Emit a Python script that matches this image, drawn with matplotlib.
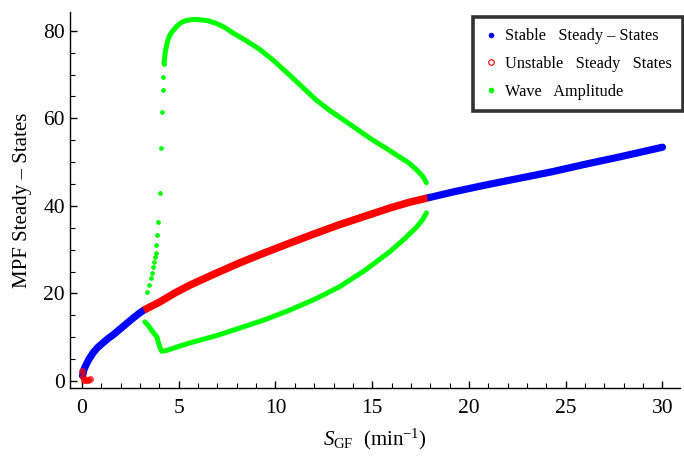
import matplotlib
matplotlib.use("Agg")
import matplotlib.pyplot as plt
from matplotlib.lines import Line2D
from matplotlib.ticker import MultipleLocator

# Stable steady states (low branch)
stable_lo_x = [0.03, 0.1, 0.2, 0.35, 0.57, 0.8, 1.08, 1.35, 1.6, 1.95, 2.3, 2.65, 3.0, 3.2]
stable_lo_y = [1.2, 2.6, 3.6, 4.9, 6.4, 7.6, 8.7, 9.7, 10.5, 11.8, 13.1, 14.4, 15.6, 16.2]
# Unstable steady states
unstable_x = [3.2, 4.0, 4.8, 5.58, 6.87, 8.16, 9.45, 10.74, 12.0, 13.3, 14.6, 15.9, 16.9, 17.85]
unstable_y = [16.2, 18.0, 20.1, 21.9, 24.5, 27.0, 29.3, 31.5, 33.6, 35.7, 37.6, 39.5, 40.8, 41.8]
# unstable points near the origin
unstable0_x = [0.02, 0.05, 0.12, 0.22, 0.32, 0.4]
unstable0_y = [2.2, 1.0, 0.3, 0.2, 0.3, 0.5]
# Stable steady states (high branch)
stable_hi_x = [17.85, 19.3, 20.9, 22.6, 24.3, 26.0, 27.8, 29.0, 30.0]
stable_hi_y = [41.8, 43.3, 44.8, 46.3, 47.8, 49.5, 51.2, 52.4, 53.4]
# Wave amplitude: sparse rising points
wave_rise_x = [3.36, 3.45, 3.55, 3.62, 3.67, 3.72, 3.76, 3.8, 3.84, 3.87, 3.92, 4.03, 4.08, 4.13, 4.17, 4.2, 4.24]
wave_rise_y = [20.3, 22.0, 23.5, 24.7, 26.0, 27.2, 28.3, 29.3, 31.1, 33.4, 36.3, 43.0, 53.3, 61.5, 66.5, 69.5, 72.5]
# Wave amplitude: upper branch (dense)
wave_up_x = [4.24, 4.3, 4.38, 4.45, 4.55, 4.7, 4.9, 5.1, 5.35, 5.6, 5.85, 6.1, 6.5, 7.0, 7.4, 7.8,
             8.5, 9.2, 9.9, 10.6, 11.35, 12.1, 12.8, 13.5, 14.25, 15.0, 15.7, 16.4, 16.9, 17.3, 17.6, 17.8]
wave_up_y = [72.5, 75.0, 76.8, 78.0, 79.1, 80.0, 81.0, 81.8, 82.3, 82.5, 82.6, 82.5, 82.3, 81.6, 80.7, 79.5,
             77.7, 75.7, 73.2, 70.4, 67.3, 64.2, 61.8, 59.7, 57.4, 55.1, 53.2, 51.2, 49.8, 48.2, 46.8, 45.3]
# Wave amplitude: lower branch
wave_lo_x = [3.25, 3.4, 3.55, 3.7, 3.87, 3.95, 4.05, 4.13, 4.3, 4.6, 5.0, 5.58, 6.9, 8.16, 9.45,
             10.74, 12.0, 13.3, 14.6, 15.9, 16.6, 17.3, 17.6, 17.8]
wave_lo_y = [13.5, 12.8, 11.9, 11.0, 10.1, 8.8, 7.4, 6.8, 6.9, 7.3, 7.9, 8.7, 10.3, 12.1, 14.0,
             16.2, 18.6, 21.5, 25.2, 29.5, 32.2, 35.2, 36.8, 38.4]

legend_labels = ['Stable   Steady \u2013 States', 'Unstable   Steady   States', 'Wave   Amplitude']
x_label = r'$S_{\rm GF}$  (min$^{-1}$)'
y_label = 'MPF Steady \u2013 States'

plt.rcParams['font.family'] = ['Liberation Serif', 'DejaVu Serif']
plt.rcParams['mathtext.fontset'] = 'custom'
plt.rcParams['mathtext.rm'] = 'Liberation Serif'
plt.rcParams['mathtext.it'] = 'Liberation Serif:italic'

BLUE = (0, 0, 1)
RED = (1, 0, 0)
GREEN = (0, 1, 0)

fig = plt.figure(figsize=(6.84, 4.59), dpi=100)
ax = fig.add_axes([0.1023, 0.1547, 0.8917, 0.8193])

ax.plot(wave_lo_x, wave_lo_y, color=GREEN, lw=3.6, solid_capstyle='round', solid_joinstyle='round', zorder=2)
ax.plot(wave_up_x, wave_up_y, color=GREEN, lw=3.6, solid_capstyle='round', solid_joinstyle='round', zorder=2)
ax.plot(wave_rise_x, wave_rise_y, 'o', color=GREEN, ms=3.4, mew=0, zorder=2)
ax.plot(stable_lo_x, stable_lo_y, color=BLUE, lw=5.2, solid_capstyle='round', solid_joinstyle='round', zorder=3)
ax.plot(stable_hi_x, stable_hi_y, color=BLUE, lw=5.2, solid_capstyle='round', solid_joinstyle='round', zorder=3)
ax.plot(unstable_x, unstable_y, color=RED, lw=5.4, solid_capstyle='butt', solid_joinstyle='round', zorder=4)
ax.plot(unstable0_x, unstable0_y, 'o', color=RED, ms=5, mew=0, alpha=0.75, zorder=4)

ax.set_xlim(-0.62, 30.9)
ax.set_ylim(-1.6, 84.3)
ax.xaxis.set_major_locator(MultipleLocator(5))
ax.xaxis.set_minor_locator(MultipleLocator(1))
ax.yaxis.set_major_locator(MultipleLocator(20))
ax.yaxis.set_minor_locator(MultipleLocator(5))
ax.tick_params(which='major', direction='in', length=5, width=1, labelsize=15.5)
ax.tick_params(axis='x', which='major', pad=8)
ax.tick_params(axis='y', which='major', pad=3.5)
ax.tick_params(which='minor', direction='in', length=3.5, width=0.8)
for s in ['top', 'right']:
    ax.spines[s].set_visible(False)
for s in ['left', 'bottom']:
    ax.spines[s].set_linewidth(1.0)

ax.set_xlabel(x_label, fontsize=15, labelpad=6)
ax.set_ylabel(y_label, fontsize=15, labelpad=8)

handles = [
    Line2D([], [], ls='none', marker='o', ms=4, color=BLUE, mew=0),
    Line2D([], [], ls='none', marker='o', ms=4, mfc='white', mec=RED, mew=0.8),
    Line2D([], [], ls='none', marker='o', ms=4, color=GREEN, mew=0),
]
leg = ax.legend(handles, legend_labels, loc='upper right',
                bbox_to_anchor=(683 / 684, 1 - 17 / 459), bbox_transform=fig.transFigure,
                fontsize=11.7, frameon=True, fancybox=False, handlelength=0.75,
                handletextpad=0.5, borderpad=0.7, labelspacing=0.72, borderaxespad=0)
leg.get_frame().set_edgecolor('black')
leg.get_frame().set_linewidth(2.6)

fig.savefig('out.png', dpi=100)
